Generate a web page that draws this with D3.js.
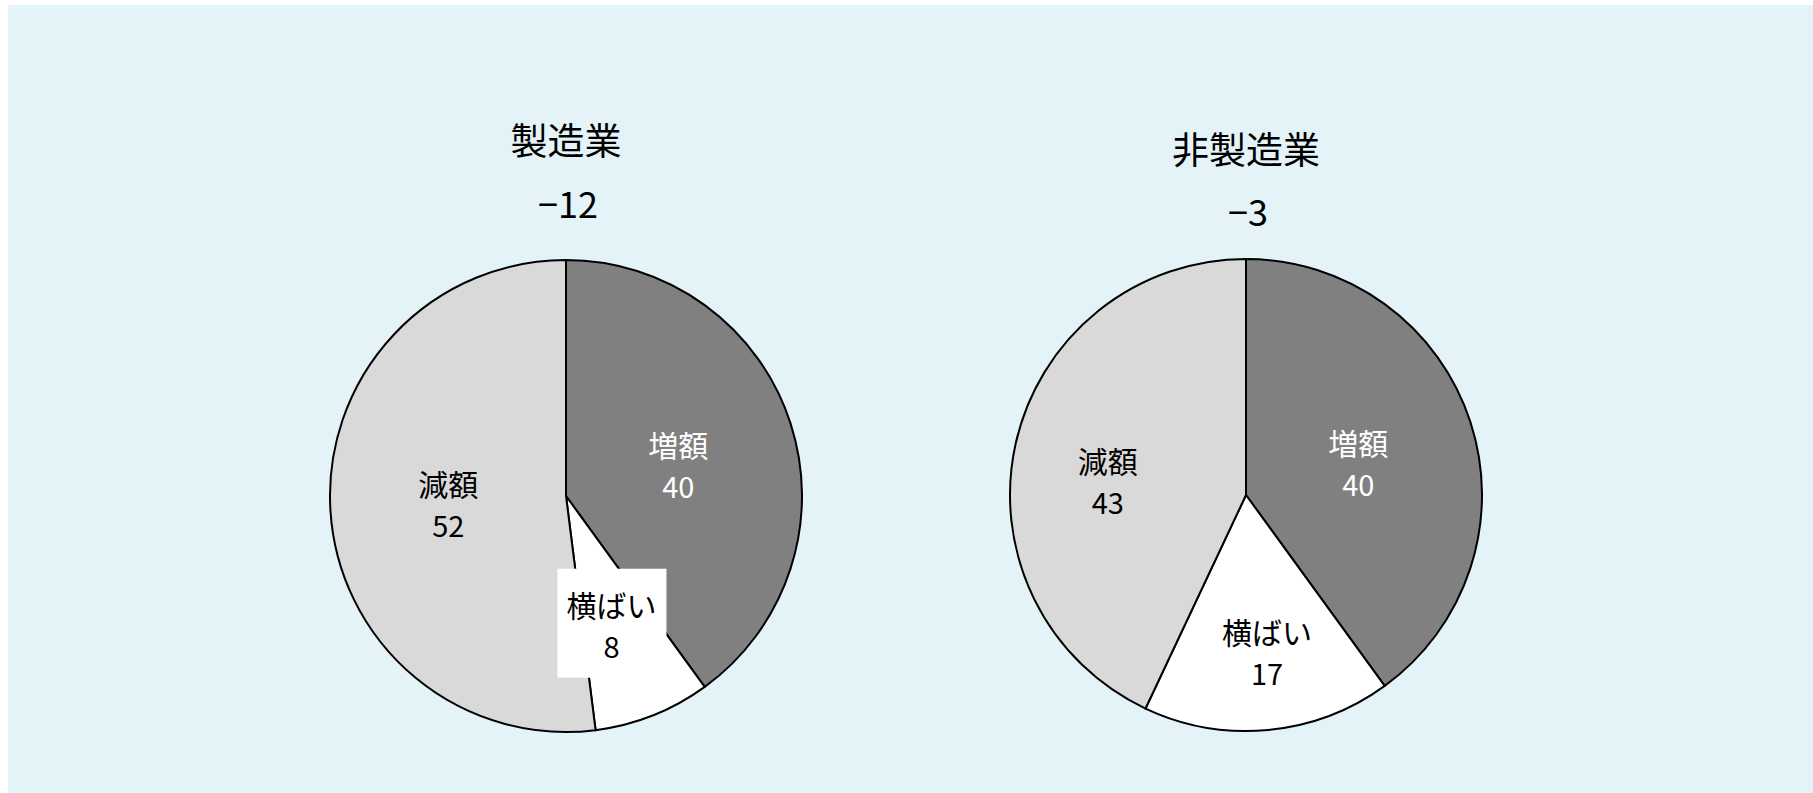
<!DOCTYPE html>
<html lang="ja">
  <head>
    <meta charset="UTF-8" />
    <title>製造業・非製造業</title>
    <script src="https://d3js.org/d3.v7.min.js"></script>
    <style>
      html, body { margin: 0; padding: 0; background: #fff; }
      text { font-family: "Noto Sans CJK JP", "Noto Sans", sans-serif; }
    </style>
  </head>
  <body>
    <svg width="1813" height="793"></svg>
  </body>

  <script>
    // データ
    var categories = ['増額', '横ばい', '減額']
    var seriesNames = ['製造業', '非製造業']
    var manufacturing = [40, 8, 52]
    var nonManufacturing = [40, 17, 43]
    var netValues = [-12, -3]

    var colors = ['#808080', '#ffffff', '#d9d9d9']
    var textColors = ['#ffffff', '#000000', '#000000']

    var svg = d3.select('svg')
    var width = +svg.attr('width')
    var height = +svg.attr('height')

    // 背景
    svg.append('rect')
      .attr('x', 8).attr('y', 5)
      .attr('width', width - 8).attr('height', height - 5)
      .attr('fill', '#e3f3f7')

    var radius = 236

    // 各円グラフの配置（ラベルのずれは Excel の配置に合わせる）
    var panels = [
      { cx: 566, cy: 496, titleY: 139, valueY: 202, values: manufacturing,
        nudge: [[0, 4], [2, 18], [0, 0]] },
      { cx: 1246, cy: 495, titleY: 148, valueY: 210, values: nonManufacturing,
        nudge: [[0, 3], [10, 39], [-23, 11]] }
    ]

    var pie = d3.pie().sort(null).value(function (d) { return d })
    var arc = d3.arc().innerRadius(0).outerRadius(radius)
    var labelArc = d3.arc().innerRadius(radius / 2).outerRadius(radius / 2)

    // マイナス記号は長い「−」で表示
    function fmt(v) {
      return (v < 0 ? '\u2212' : '') + Math.abs(v)
    }

    panels.forEach(function (p, i) {
      var g = svg.append('g').attr('transform', 'translate(' + p.cx + ',' + p.cy + ')')

      // タイトル
      svg.append('text')
        .attr('x', p.cx).attr('y', p.titleY)
        .attr('text-anchor', 'middle')
        .attr('dominant-baseline', 'central')
        .attr('font-size', 37)
        .attr('fill', '#000')
        .text(seriesNames[i])

      svg.append('text')
        .attr('x', p.cx + 2).attr('y', p.valueY)
        .attr('text-anchor', 'middle')
        .attr('dominant-baseline', 'central')
        .attr('font-size', 36)
        .attr('fill', '#000')
        .text(fmt(netValues[i]))

      var arcs = pie(p.values)

      g.selectAll('path')
        .data(arcs)
        .enter()
        .append('path')
        .attr('d', arc)
        .attr('fill', function (d, j) { return colors[j] })
        .attr('stroke', '#000')
        .attr('stroke-width', 2)
        .attr('stroke-linejoin', 'round')

      var labels = g.selectAll('.label')
        .data(arcs)
        .enter()
        .append('g')
        .attr('class', 'label')
        .attr('transform', function (d, j) {
          var c = labelArc.centroid(d)
          return 'translate(' + (c[0] + p.nudge[j][0]) + ',' + (c[1] + p.nudge[j][1]) + ')'
        })

      // 小さいスライスのラベルには白い背景
      labels.filter(function (d) { return d.data < 10 })
        .append('rect')
        .attr('x', -54).attr('y', -55)
        .attr('width', 109).attr('height', 109)
        .attr('fill', '#fff')

      labels.append('text')
        .attr('y', -20)
        .attr('text-anchor', 'middle')
        .attr('dominant-baseline', 'central')
        .attr('font-size', 30)
        .attr('fill', function (d, j) { return textColors[j] })
        .text(function (d, j) { return categories[j] })

      labels.append('text')
        .attr('y', 21)
        .attr('text-anchor', 'middle')
        .attr('dominant-baseline', 'central')
        .attr('font-size', 29)
        .attr('fill', function (d, j) { return textColors[j] })
        .text(function (d) { return d.data })
    })
  </script>
</html>
